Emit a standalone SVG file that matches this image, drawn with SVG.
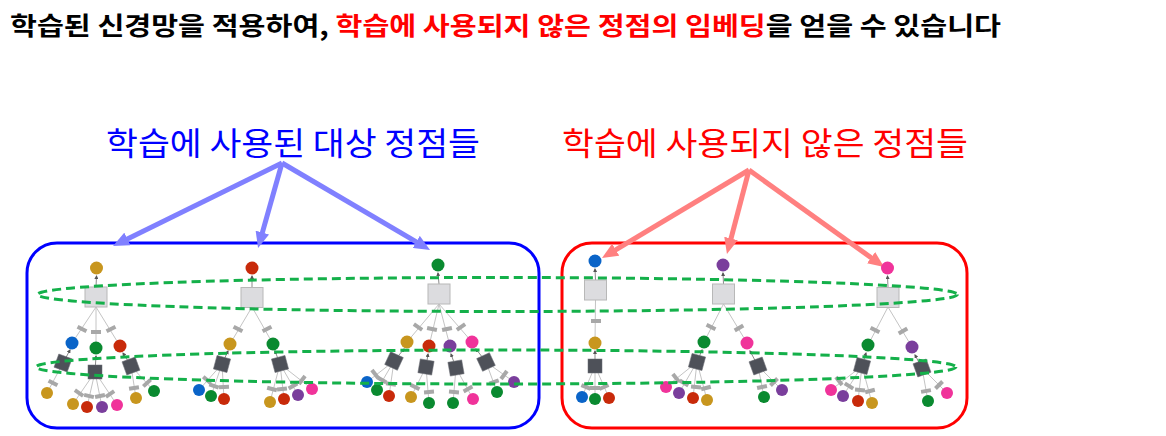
<svg xmlns="http://www.w3.org/2000/svg" width="1166" height="436" viewBox="0 0 1166 436">
<style>
.e{stroke:#c4c4c4;stroke-width:1;fill:none}
.t{stroke:#8a8a8a;stroke-width:1;fill:none}
.r{fill:#a8a8a8}
.s{fill:#dcdcdf;stroke:#b8b8b8;stroke-width:1}
.d{fill:#4e5159;stroke:#6a6d74;stroke-width:0.5}
.gold{fill:#c8961e}.blue{fill:#0a64c8}.green{fill:#0a8a30}.red{fill:#c82a0a}.purple{fill:#7a3e9c}.pink{fill:#f0339a}
.el{fill:none;stroke:#14b04a;stroke-width:3;stroke-dasharray:9 5}
.ab{stroke:#8080ff;stroke-width:5;fill:none}
.ar{stroke:#ff8080;stroke-width:5;fill:none}
</style>
<defs>
<marker id="hb" markerUnits="userSpaceOnUse" markerWidth="16" markerHeight="14" refX="4" refY="7" orient="auto"><path d="M0,0 L16,7 L0,14 z" fill="#8080ff"/></marker>
<marker id="hr" markerUnits="userSpaceOnUse" markerWidth="16" markerHeight="14" refX="4" refY="7" orient="auto"><path d="M0,0 L16,7 L0,14 z" fill="#ff8080"/></marker>
<marker id="ht" markerUnits="userSpaceOnUse" markerWidth="4" markerHeight="4" refX="3" refY="2" orient="auto"><path d="M0,0 L4,2 L0,4 z" fill="#555"/></marker>
<rect id="lb" x="-5" y="-2" width="10" height="4"/>
<rect id="ds" x="-7" y="-7" width="14" height="14"/>
<rect id="gs" x="-11" y="-10" width="22" height="20"/>
</defs>
<rect width="1166" height="436" fill="#ffffff"/>

<text x="10" y="35" font-family="'Noto Sans CJK KR', 'Liberation Sans', sans-serif" font-size="25" font-weight="bold" textLength="991" lengthAdjust="spacingAndGlyphs" fill="#000">학습된 신경망을 적용하여, <tspan fill="#ff0000">학습에 사용되지 않은 정점의 임베딩</tspan>을 얻을 수 있습니다</text>

<text id="label-used" x="106" y="155" font-family="'Noto Sans CJK KR', 'Liberation Sans', sans-serif" font-size="32" textLength="374" lengthAdjust="spacingAndGlyphs" fill="#0000ff">학습에 사용된 대상 정점들</text>
<text id="label-unused" x="562" y="155" font-family="'Noto Sans CJK KR', 'Liberation Sans', sans-serif" font-size="32" textLength="406" lengthAdjust="spacingAndGlyphs" fill="#ff0000">학습에 사용되지 않은 정점들</text>

<g id="box-used"><rect x="27" y="243" width="512" height="185" rx="30" fill="none" stroke="#0000ff" stroke-width="3"/></g>
<g id="box-unused"><rect x="562" y="243" width="405" height="185" rx="30" fill="none" stroke="#ff0000" stroke-width="3"/></g>

<g id="connectors">
<!-- tree 1 -->
<line class="t" x1="96" y1="287" x2="96.5" y2="276" marker-end="url(#ht)"/>
<line class="e" x1="96" y1="307" x2="72" y2="343"/><line class="e" x1="96" y1="307" x2="96" y2="348"/><line class="e" x1="96" y1="307" x2="120" y2="346"/>
<line class="t" x1="63" y1="363" x2="70" y2="350" marker-end="url(#ht)"/><line class="t" x1="95" y1="372" x2="96" y2="356" marker-end="url(#ht)"/><line class="t" x1="131" y1="366" x2="123" y2="353" marker-end="url(#ht)"/>
<line class="e" x1="63" y1="363" x2="47" y2="393"/>
<line class="e" x1="95" y1="372" x2="73" y2="404"/><line class="e" x1="95" y1="372" x2="87" y2="407"/><line class="e" x1="95" y1="372" x2="102" y2="407"/><line class="e" x1="95" y1="372" x2="117" y2="405"/>
<line class="e" x1="131" y1="366" x2="136" y2="398"/><line class="e" x1="131" y1="366" x2="154" y2="391"/>
<!-- tree 2 -->
<line class="t" x1="252" y1="287" x2="252" y2="276" marker-end="url(#ht)"/>
<line class="e" x1="252" y1="307" x2="230" y2="344"/><line class="e" x1="252" y1="307" x2="273" y2="344"/>
<line class="t" x1="222" y1="364" x2="228" y2="351" marker-end="url(#ht)"/><line class="t" x1="280" y1="364" x2="275" y2="351" marker-end="url(#ht)"/>
<line class="e" x1="222" y1="364" x2="199" y2="390"/><line class="e" x1="222" y1="364" x2="211" y2="396"/><line class="e" x1="222" y1="364" x2="224" y2="399"/>
<line class="e" x1="280" y1="364" x2="270" y2="402"/><line class="e" x1="280" y1="364" x2="284" y2="399"/><line class="e" x1="280" y1="364" x2="298" y2="395"/><line class="e" x1="280" y1="364" x2="312" y2="389"/>
<!-- tree 3 -->
<line class="t" x1="439" y1="284" x2="438" y2="273" marker-end="url(#ht)"/>
<line class="e" x1="439" y1="304" x2="407" y2="342"/><line class="e" x1="439" y1="304" x2="429" y2="346"/><line class="e" x1="439" y1="304" x2="450" y2="346"/><line class="e" x1="439" y1="304" x2="472" y2="342"/>
<line class="t" x1="394" y1="361" x2="404" y2="349" marker-end="url(#ht)"/><line class="t" x1="426" y1="367" x2="428" y2="354" marker-end="url(#ht)"/><line class="t" x1="456" y1="368" x2="451" y2="354" marker-end="url(#ht)"/><line class="t" x1="486" y1="362" x2="476" y2="349" marker-end="url(#ht)"/>
<line class="e" x1="394" y1="361" x2="367" y2="382"/><line class="e" x1="394" y1="361" x2="377" y2="390"/><line class="e" x1="394" y1="361" x2="389" y2="396"/>
<line class="e" x1="426" y1="367" x2="411" y2="397"/><line class="e" x1="426" y1="367" x2="429" y2="403"/>
<line class="e" x1="456" y1="368" x2="453" y2="403"/><line class="e" x1="456" y1="368" x2="473" y2="399"/>
<line class="e" x1="486" y1="362" x2="497" y2="392"/><line class="e" x1="486" y1="362" x2="514" y2="382"/>
<!-- tree 4 -->
<line class="t" x1="595.5" y1="280" x2="595" y2="269" marker-end="url(#ht)"/>
<line class="e" x1="595.5" y1="300" x2="595" y2="343"/>
<line class="t" x1="595" y1="359" x2="595" y2="351" marker-end="url(#ht)"/>
<line class="e" x1="595" y1="366" x2="582" y2="397"/><line class="e" x1="595" y1="366" x2="595" y2="399"/><line class="e" x1="595" y1="366" x2="609" y2="398"/>
<!-- tree 5 -->
<line class="t" x1="723.5" y1="284" x2="723" y2="273" marker-end="url(#ht)"/>
<line class="e" x1="723.5" y1="304" x2="704" y2="342"/><line class="e" x1="723.5" y1="304" x2="747" y2="343"/>
<line class="t" x1="697" y1="362" x2="702" y2="350" marker-end="url(#ht)"/><line class="t" x1="758" y1="366" x2="750" y2="351" marker-end="url(#ht)"/>
<line class="e" x1="697" y1="362" x2="666" y2="387"/><line class="e" x1="697" y1="362" x2="679" y2="393"/><line class="e" x1="697" y1="362" x2="693" y2="398"/><line class="e" x1="697" y1="362" x2="707" y2="400"/>
<line class="e" x1="758" y1="366" x2="764" y2="397"/><line class="e" x1="758" y1="366" x2="782" y2="390"/>
<!-- tree 6 -->
<line class="t" x1="888" y1="287" x2="887.5" y2="276" marker-end="url(#ht)"/>
<line class="e" x1="888" y1="307" x2="868" y2="345"/><line class="e" x1="888" y1="307" x2="912" y2="347"/>
<line class="t" x1="862" y1="366" x2="866" y2="353" marker-end="url(#ht)"/><line class="t" x1="922" y1="368" x2="915" y2="355" marker-end="url(#ht)"/>
<line class="e" x1="862" y1="366" x2="831" y2="390"/><line class="e" x1="862" y1="366" x2="843" y2="396"/><line class="e" x1="862" y1="366" x2="858" y2="401"/><line class="e" x1="862" y1="366" x2="872" y2="403"/>
<line class="e" x1="922" y1="368" x2="928" y2="401"/><line class="e" x1="922" y1="368" x2="947" y2="393"/>
<!-- big arrows -->
<line class="ab" x1="282" y1="163" x2="123.8" y2="240.7" marker-end="url(#hb)"/>
<line class="ab" x1="282" y1="163" x2="261.3" y2="236.4" marker-end="url(#hb)"/>
<line class="ab" x1="282" y1="163" x2="419.7" y2="243.9" marker-end="url(#hb)"/>
<line class="ar" x1="749" y1="170" x2="612.3" y2="251.8" marker-end="url(#hr)"/>
<line class="ar" x1="749" y1="170" x2="730" y2="242.4" marker-end="url(#hr)"/>
<line class="ar" x1="749" y1="170" x2="874.3" y2="260" marker-end="url(#hr)"/>
</g>

<g id="tree1">
<circle class="gold" cx="96.5" cy="268" r="6.5"/>
<use href="#gs" class="s" x="96" y="297"/>
<use href="#lb" class="r" transform="translate(82,329) rotate(27)"/><use href="#lb" class="r" transform="translate(96,332)"/><use href="#lb" class="r" transform="translate(111,329) rotate(-27)"/>
<circle class="blue" cx="72" cy="343" r="6.5"/><circle class="green" cx="96" cy="348" r="6.5"/><circle class="red" cx="120" cy="346" r="6.5"/>
<use href="#ds" class="d" transform="translate(63,363) rotate(20)"/><use href="#ds" class="d" transform="translate(95,372)"/><use href="#ds" class="d" transform="translate(131,366) rotate(-20)"/>
<use href="#lb" class="r" transform="translate(53,383) rotate(28)"/>
<use href="#lb" class="r" transform="translate(79,393) rotate(34)"/><use href="#lb" class="r" transform="translate(89,396) rotate(13)"/><use href="#lb" class="r" transform="translate(100,396) rotate(-11)"/><use href="#lb" class="r" transform="translate(110,394) rotate(-34)"/>
<use href="#lb" class="r" transform="translate(134,388) rotate(-9)"/><use href="#lb" class="r" transform="translate(147,383) rotate(-43)"/>
<circle class="gold" cx="47" cy="393" r="6"/><circle class="gold" cx="73" cy="404" r="6"/><circle class="red" cx="87" cy="407" r="6"/><circle class="purple" cx="102" cy="407" r="6"/><circle class="pink" cx="117" cy="405" r="6"/><circle class="gold" cx="136" cy="398" r="6"/><circle class="green" cx="154" cy="391" r="6"/>
</g>

<g id="tree2">
<circle class="red" cx="252" cy="268" r="6.5"/>
<use href="#gs" class="s" x="252" y="297.5"/>
<use href="#lb" class="r" transform="translate(238,329) rotate(28)"/><use href="#lb" class="r" transform="translate(267,329) rotate(-28)"/>
<circle class="gold" cx="230" cy="344" r="6.5"/><circle class="green" cx="273" cy="344" r="6.5"/>
<use href="#ds" class="d" transform="translate(222,364) rotate(15)"/><use href="#ds" class="d" transform="translate(280,364) rotate(-15)"/>
<use href="#lb" class="r" transform="translate(207,380) rotate(41)"/><use href="#lb" class="r" transform="translate(214,386) rotate(19)"/><use href="#lb" class="r" transform="translate(224,387) rotate(-3)"/>
<use href="#lb" class="r" transform="translate(272,389) rotate(15)"/><use href="#lb" class="r" transform="translate(282,389) rotate(-7)"/><use href="#lb" class="r" transform="translate(293,386) rotate(-30)"/><use href="#lb" class="r" transform="translate(302,380) rotate(-52)"/>
<circle class="blue" cx="199" cy="390" r="6"/><circle class="green" cx="211" cy="396" r="6"/><circle class="red" cx="224" cy="399" r="6"/>
<circle class="gold" cx="270" cy="402" r="6"/><circle class="red" cx="284" cy="399" r="6"/><circle class="purple" cx="298" cy="395" r="6"/><circle class="pink" cx="312" cy="389" r="6"/>
</g>

<g id="tree3">
<circle class="green" cx="438" cy="265" r="6.5"/>
<use href="#gs" class="s" x="439" y="294"/>
<use href="#lb" class="r" transform="translate(418,327) rotate(34)"/><use href="#lb" class="r" transform="translate(432,329) rotate(11)"/><use href="#lb" class="r" transform="translate(447,329) rotate(-12)"/><use href="#lb" class="r" transform="translate(461,327) rotate(-34)"/>
<circle class="gold" cx="407" cy="342" r="6.5"/><circle class="red" cx="429" cy="346" r="6.5"/><circle class="purple" cx="450" cy="346" r="6.5"/><circle class="pink" cx="472" cy="342" r="6.5"/>
<use href="#ds" class="d" transform="translate(394,361) rotate(25)"/><use href="#ds" class="d" transform="translate(426,367) rotate(10)"/><use href="#ds" class="d" transform="translate(456,368) rotate(-10)"/><use href="#ds" class="d" transform="translate(486,362) rotate(-25)"/>
<use href="#lb" class="r" transform="translate(375,374) rotate(52)"/><use href="#lb" class="r" transform="translate(382,380) rotate(30)"/><use href="#lb" class="r" transform="translate(391,384) rotate(8)"/>
<use href="#lb" class="r" transform="translate(415,387) rotate(27)"/><use href="#lb" class="r" transform="translate(429,392) rotate(-5)"/>
<use href="#lb" class="r" transform="translate(454,392) rotate(5)"/><use href="#lb" class="r" transform="translate(468,389) rotate(-29)"/>
<use href="#lb" class="r" transform="translate(494,382) rotate(-20)"/><use href="#lb" class="r" transform="translate(504,375) rotate(-54)"/>
<circle class="blue" cx="367" cy="382" r="6"/><circle class="green" cx="377" cy="390" r="6"/><circle class="red" cx="389" cy="396" r="6"/>
<circle class="gold" cx="411" cy="397" r="6"/><circle class="green" cx="429" cy="403" r="6"/>
<circle class="green" cx="453" cy="403" r="6"/><circle class="pink" cx="473" cy="399" r="6"/>
<circle class="green" cx="497" cy="392" r="6"/><circle class="purple" cx="514" cy="382" r="6"/>
</g>

<g id="tree4">
<circle class="blue" cx="595" cy="261" r="6.5"/>
<use href="#gs" class="s" x="595.5" y="290"/>
<use href="#lb" class="r" transform="translate(596,321)"/>
<circle class="gold" cx="595" cy="343" r="6.5"/>
<use href="#ds" class="d" transform="translate(595,366)"/>
<use href="#lb" class="r" transform="translate(586,387) rotate(23)"/><use href="#lb" class="r" transform="translate(595,388)"/><use href="#lb" class="r" transform="translate(604,387) rotate(-24)"/>
<circle class="blue" cx="582" cy="397" r="6"/><circle class="green" cx="595" cy="399" r="6"/><circle class="red" cx="609" cy="398" r="6"/>
</g>

<g id="tree5">
<circle class="purple" cx="723" cy="265" r="6.5"/>
<use href="#gs" class="s" x="723.5" y="294"/>
<use href="#lb" class="r" transform="translate(711,327) rotate(27)"/><use href="#lb" class="r" transform="translate(739,328) rotate(-31)"/>
<circle class="green" cx="704" cy="342" r="6.5"/><circle class="pink" cx="747" cy="343" r="6.5"/>
<use href="#ds" class="d" transform="translate(697,362) rotate(15)"/><use href="#ds" class="d" transform="translate(758,366) rotate(-20)"/>
<use href="#lb" class="r" transform="translate(676,378) rotate(51)"/><use href="#lb" class="r" transform="translate(684,383) rotate(30)"/><use href="#lb" class="r" transform="translate(696,387) rotate(6)"/><use href="#lb" class="r" transform="translate(706,388) rotate(-15)"/>
<use href="#lb" class="r" transform="translate(762,387) rotate(-11)"/><use href="#lb" class="r" transform="translate(774,382) rotate(-45)"/>
<circle class="pink" cx="666" cy="387" r="6"/><circle class="purple" cx="679" cy="393" r="6"/><circle class="red" cx="693" cy="398" r="6"/><circle class="gold" cx="707" cy="400" r="6"/>
<circle class="green" cx="764" cy="397" r="6"/><circle class="purple" cx="782" cy="390" r="6"/>
</g>

<g id="tree6">
<circle class="pink" cx="887.5" cy="268" r="6.5"/>
<use href="#gs" class="s" x="888" y="297.5"/>
<use href="#lb" class="r" transform="translate(875,330) rotate(28)"/><use href="#lb" class="r" transform="translate(903,331) rotate(-31)"/>
<circle class="green" cx="868" cy="345" r="6.5"/><circle class="purple" cx="912" cy="347" r="6.5"/>
<use href="#ds" class="d" transform="translate(862,366) rotate(15)"/><use href="#ds" class="d" transform="translate(922,368) rotate(-20)"/>
<use href="#lb" class="r" transform="translate(839,381) rotate(52)"/><use href="#lb" class="r" transform="translate(849,386) rotate(32)"/><use href="#lb" class="r" transform="translate(860,390) rotate(6)"/><use href="#lb" class="r" transform="translate(870,391) rotate(-15)"/>
<use href="#lb" class="r" transform="translate(926,391) rotate(-10)"/><use href="#lb" class="r" transform="translate(939,385) rotate(-45)"/>
<circle class="pink" cx="831" cy="390" r="6"/><circle class="purple" cx="843" cy="396" r="6"/><circle class="red" cx="858" cy="401" r="6"/><circle class="gold" cx="872" cy="403" r="6"/>
<circle class="green" cx="928" cy="401" r="6"/><circle class="pink" cx="947" cy="393" r="6"/>
</g>

<g id="level-rings">
<ellipse class="el" cx="497.5" cy="294.5" rx="460" ry="17"/>
<ellipse class="el" cx="496" cy="367" rx="460" ry="17"/>
</g>
</svg>
